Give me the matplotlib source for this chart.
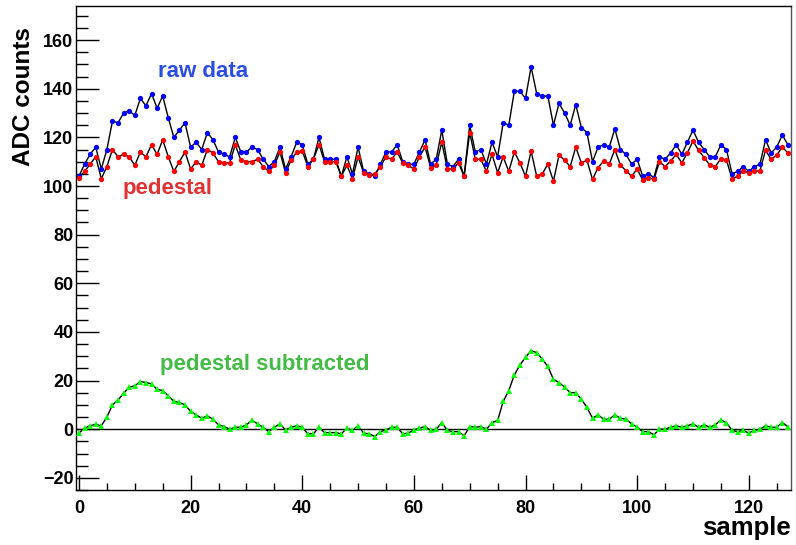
#import the libs
import matplotlib
matplotlib.use("Agg")
import matplotlib.pyplot as plt
from matplotlib.ticker import MultipleLocator

plt.rcParams['font.family'] = ['Liberation Sans', 'DejaVu Sans']
plt.rcParams['font.weight'] = 'bold'

# samples 0..127
sample = list(range(128))

# raw adc values (blue)
raw_data = [104, 109, 113, 116, 107, 115, 126.7, 126, 130, 131,
            129, 136, 133, 138, 132, 137, 128, 120, 123, 126,
            116, 118, 115, 122, 119, 114, 113, 112, 120, 114,
            114, 116, 115, 111, 108, 110, 116, 107, 112, 118,
            117, 109, 111, 120, 111, 111, 111, 104, 112, 105,
            116, 106, 105, 104, 109, 114, 114, 117, 110, 109,
            109, 114, 119, 109, 111, 123, 109, 108, 111, 104,
            125, 114, 115, 109, 118, 112, 126, 125, 139, 139,
            136, 149, 138, 137, 137, 125, 134, 130, 125, 133.5,
            124, 122, 110, 116, 117, 116, 123.5, 115, 113, 109,
            111, 104, 105, 103.5, 112, 111, 113.6, 117, 113, 118,
            123, 118, 115, 112, 112, 117, 115, 105, 106, 108,
            106, 108, 109, 119, 113.6, 116, 121, 117]

# pedestal (red)
pedestal = [103.4, 106, 109, 112, 103, 108, 115, 112, 113, 112,
            108.5, 114, 112, 117, 113, 119, 112, 106, 110, 114,
            107, 110, 108.5, 115, 113.6, 110, 109.5, 109.5, 117, 110.6,
            110, 110, 111, 108, 106, 108.5, 114, 105.5, 110.6, 114,
            114.4, 108, 111, 117, 110, 110, 110, 104, 108.5, 103,
            112, 105.5, 104.5, 105, 108, 112, 111, 114, 109.5, 108.5,
            107, 112, 116, 107.6, 108.5, 118, 107, 107, 109.5, 104,
            122, 111, 111, 106, 113, 105.5, 112, 106, 114, 109.5,
            104, 114.4, 104, 105, 109, 102, 112.7, 110.6, 108, 116,
            109.5, 110.6, 102.7, 107.6, 110.3, 109, 115, 108.6, 106.3, 104,
            107, 102.4, 103.5, 102.7, 110, 108, 110.3, 113, 109.5, 113.6,
            118.5, 114.7, 111.7, 108.6, 108, 111.3, 110.6, 103, 104, 106.3,
            105.4, 106, 106.3, 114.7, 111, 112.7, 116, 113.6]

# pedestal subtracted (green)
subtracted = [-1.6, 0.4, 1.4, 2, 1.4, 5, 10, 12, 14.8, 17.3,
              17.8, 19.6, 19.2, 18.6, 16.4, 15.9, 13.7, 11.4, 11, 10,
              7.3, 5.9, 4.5, 5.5, 4.1, 1.8, 1.1, 0, 0.8, 0.8,
              1.8, 3.6, 2.2, 0.8, -1, 0.8, 2.2, -0.3, 0.8, 1.4,
              0.8, -1.9, -1.9, 0.8, -1.4, -1.4, -1.4, -1.9, 0.4, -0.5,
              1.4, -1.6, -1.9, -3, -1, -0.3, 0.8, 0.8, -1.9, -1.6,
              -0.3, 0.4, 1.1, -0.5, 0, 2.7, -0.5, -1, -1, -2.7,
              1.1, 0.8, 1.1, 0, 2.7, 3.6, 11.4, 15.9, 22.3, 26.4,
              29.6, 32.3, 31.5, 28.8, 25.8, 20.5, 19.2, 17.3, 15, 15,
              12.3, 9, 4.5, 5.9, 4.1, 4.1, 5.9, 4.5, 4.1, 2.2,
              0.8, -1, -1, -2.3, 0, 0, 0.8, 1.4, 0.8, 1.4,
              2.2, 0.8, 1.8, 0.8, 1.8, 3.8, 2.7, -0.5, -1, -0.5,
              -1.6, -0.5, 0, 1.4, 0.8, 0.8, 2.7, 1.1]

fig = plt.figure(figsize=(7.96, 5.45), dpi=100)
ax = fig.add_axes([0.0957, 0.1009, 0.8976, 0.888])

# zero line
ax.axhline(0, color='black', linewidth=1.0, zorder=1)

# black line + coloured markers for every series
ax.plot(sample, raw_data, '-', color='black', linewidth=1.0, zorder=2)
ax.plot(sample, raw_data, 'o', color='#0000ff', markersize=3.8, markeredgewidth=0, zorder=3)
ax.plot(sample, pedestal, '-', color='black', linewidth=1.0, zorder=2)
ax.plot(sample, pedestal, 'o', color='#ff0000', markersize=3.8, markeredgewidth=0, zorder=3)
ax.plot(sample, subtracted, '-', color='black', linewidth=1.0, zorder=2)
ax.plot(sample, subtracted, '^', color='#00ff00', markersize=4.3, markeredgewidth=0, zorder=3)

# labels inside the plot
ax.text(14.1, 144.8, 'raw data', color='#2a4ddf', fontsize=16, fontweight='bold', va='baseline')
ax.text(7.9, 96.6, 'pedestal', color='#e03333', fontsize=16, fontweight='bold', va='baseline')
ax.text(14.5, 24.4, 'pedestal subtracted', color='#44bb44', fontsize=16, fontweight='bold', va='baseline')

ax.set_xlim(-0.5, 127.5)
ax.set_ylim(-25, 174)
ax.xaxis.set_major_locator(MultipleLocator(20))
ax.xaxis.set_minor_locator(MultipleLocator(5))
ax.yaxis.set_major_locator(MultipleLocator(20))
ax.yaxis.set_minor_locator(MultipleLocator(5))

ax.tick_params(axis='y', which='major', direction='in', length=16.5, width=1, labelsize=13, pad=2)
ax.tick_params(axis='y', which='minor', direction='in', length=8.6, width=1)
ax.tick_params(axis='x', which='major', direction='in', length=10.8, width=1, labelsize=13, pad=7)
ax.tick_params(axis='x', which='minor', direction='in', length=5, width=1)
for lab in ax.get_xticklabels() + ax.get_yticklabels():
    lab.set_fontweight('bold')

for sp in ax.spines.values():
    sp.set_linewidth(1)
    sp.set_color('black')
ax.spines['right'].set_color('#555555')

# axis titles
fig.text(24 / 796, 1 - 97 / 545, 'ADC counts', rotation=90, fontsize=17.5, fontweight='bold',
         ha='center', va='center')
fig.text(790.7 / 796, 1 - 535 / 545, 'sample', fontsize=18.5, fontweight='bold',
         ha='right', va='baseline')

plt.savefig('out.png', dpi=100)
